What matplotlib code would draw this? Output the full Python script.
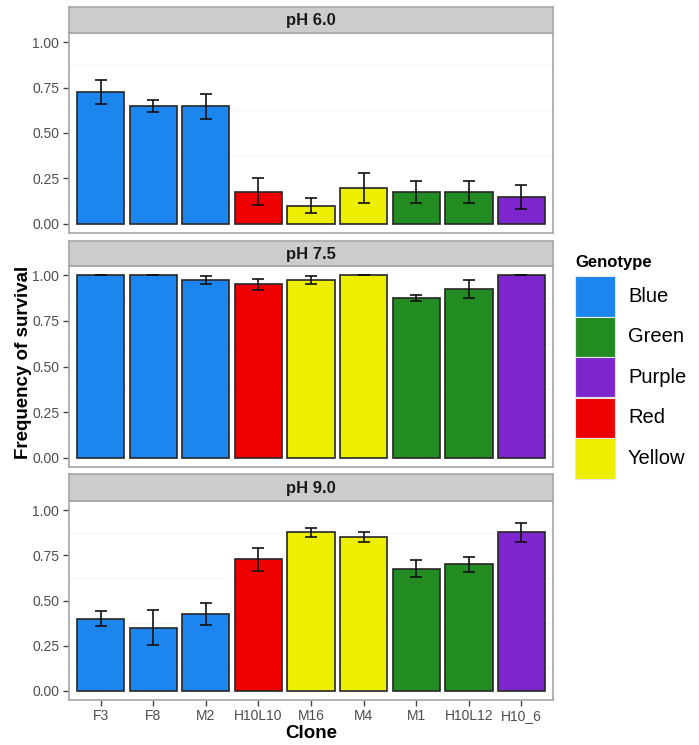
import matplotlib
matplotlib.use('Agg')
import matplotlib.pyplot as plt
import matplotlib.patches as patches
import matplotlib.transforms as mtransforms
import numpy as np

plt.rcParams['font.family'] = ['Liberation Sans', 'DejaVu Sans']

clones = ['F3', 'F8', 'M2', 'H10L10', 'M16', 'M4', 'M1', 'H10L12', 'H10_6']
genotype = ['Blue', 'Blue', 'Blue', 'Red', 'Yellow', 'Yellow', 'Green', 'Green', 'Purple']
panels = ['pH 6.0', 'pH 7.5', 'pH 9.0']

surv_60 = [0.724, 0.646, 0.646, 0.178, 0.100, 0.198, 0.174, 0.174, 0.147]
err_60 = [0.065, 0.033, 0.068, 0.075, 0.042, 0.082, 0.060, 0.060, 0.065]
surv_75 = [1.0, 1.0, 0.974, 0.950, 0.974, 1.0, 0.874, 0.923, 1.0]
err_75 = [0.0, 0.0, 0.024, 0.031, 0.024, 0.0, 0.018, 0.048, 0.0]
surv_90 = [0.399, 0.350, 0.427, 0.727, 0.877, 0.849, 0.676, 0.699, 0.877]
err_90 = [0.042, 0.095, 0.061, 0.065, 0.025, 0.027, 0.047, 0.040, 0.051]

legend_order = ['Blue', 'Green', 'Purple', 'Red', 'Yellow']
palette = {'Blue': '#1C86EE', 'Green': '#228B22', 'Purple': '#7D26CD',
           'Red': '#EE0000', 'Yellow': '#EEEE00'}

W, H = 699, 745
fig = plt.figure(figsize=(W / 100, H / 100), dpi=100)

# pixel boxes: (strip top, panel top, panel bottom)
boxes = [(7, 33, 233), (241, 266, 467), (474, 501, 700)]
left, right = 69, 553
frame_col = '#a6a6a6'

x = np.arange(len(clones))
values = [(surv_60, err_60), (surv_75, err_75), (surv_90, err_90)]

for i, (name, (vals, errs), (st, pt, pb)) in enumerate(zip(panels, values, boxes)):
    ax = fig.add_axes([left / W, 1 - pb / H, (right - left) / W, (pb - pt) / H])
    cols = [palette[g] for g in genotype]
    ax.bar(x, vals, width=0.9, color=cols, edgecolor='#262626', linewidth=1.2, zorder=3)
    ax.errorbar(x, vals, yerr=errs, fmt='none', ecolor='#111111', elinewidth=1.2,
                capsize=4.5, capthick=1.2, zorder=4)
    ax.set_xlim(-0.6, len(clones) - 0.4)
    ax.set_ylim(-0.05, 1.05)
    ax.set_yticks([0, 0.25, 0.5, 0.75, 1.0])
    ax.set_yticklabels(['0.00', '0.25', '0.50', '0.75', '1.00'])
    ax.set_yticks([0.125, 0.375, 0.625, 0.875], minor=True)
    ax.grid(True, which='minor', axis='y', color='#f6f6f6', linewidth=0.8, zorder=0)
    ax.tick_params(axis='y', which='minor', length=0)
    ax.tick_params(axis='y', which='major', length=4, color='#444444', width=1,
                   labelsize=10, labelcolor='#4d4d4d', pad=3)
    for s in ax.spines.values():
        s.set_color(frame_col)
        s.set_linewidth(1.2)
    if i < 2:
        ax.set_xticks([])
    else:
        ax.set_xticks(x)
        ax.set_xticklabels([])
        ax.tick_params(axis='x', length=4, color='#444444', width=1)
        # labels on a common baseline
        trans = mtransforms.blended_transform_factory(ax.transData, fig.transFigure)
        for xi, lab in zip(x, clones):
            ax.text(xi, 1 - 720 / H, lab, transform=trans, ha='center', va='baseline',
                    fontsize=10, color='#4d4d4d', clip_on=False)
        fig.text((left + right) / 2 / W, 1 - 734 / H, 'Clone', ha='center', va='center',
                 fontsize=13.5, fontweight='bold')

    # facet strip
    sax = fig.add_axes([left / W, 1 - pt / H, (right - left) / W, (pt - st) / H])
    sax.set_facecolor('#cccccc')
    sax.set_xticks([])
    sax.set_yticks([])
    for s in sax.spines.values():
        s.set_color(frame_col)
        s.set_linewidth(1.2)
    sax.text(0.5, 0.47, name, ha='center', va='center', fontsize=12,
             fontweight='bold', color='#1a1a1a', transform=sax.transAxes)

fig.text(23 / W, 1 - 362 / H, 'Frequency of survival', rotation=90, ha='center',
         va='center', fontsize=13.5, fontweight='bold')

# legend
fig.text(575 / W, 1 - 263 / H, 'Genotype', ha='left', va='center', fontsize=12,
         fontweight='bold')
key_top, key_h, key_w = 276, 40.5, 40
for k, g in enumerate(legend_order):
    y0 = key_top + k * key_h
    fig.patches.append(patches.Rectangle((575 / W, 1 - (y0 + key_h) / H), key_w / W,
                                         key_h / H, transform=fig.transFigure,
                                         facecolor=palette[g], edgecolor='#e6e6e6',
                                         linewidth=0.8))
    fig.text(628 / W, 1 - (y0 + key_h / 2) / H, g, ha='left', va='center', fontsize=14.5)

fig.savefig('out.png', dpi=100)
